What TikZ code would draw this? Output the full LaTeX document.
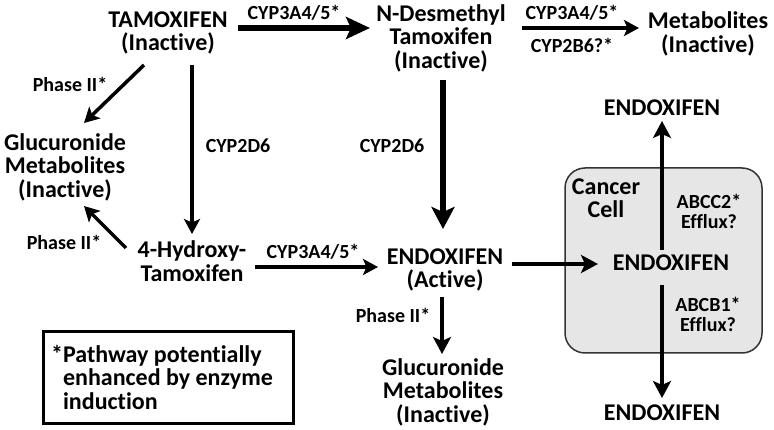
\documentclass[tikz,border=0pt]{standalone}
\usepackage{fontspec}
\setmainfont[Ligatures={NoCommon}]{Carlito}
\usetikzlibrary{arrows.meta}
\definecolor{cellgray}{HTML}{E6E6E6}
\definecolor{celledge}{HTML}{333333}
\tikzset{
  big/.style={font=\bfseries\fontsize{24}{23.5}\selectfont, align=center, inner sep=0pt},
  lbl/.style={font=\bfseries\fontsize{20}{20}\selectfont, align=center, inner sep=0pt},
  arrA/.style={line width=6pt, -{Stealth[length=24pt,width=22pt,inset=5pt]}},
  arrB/.style={line width=4pt, -{Stealth[length=17pt,width=18pt,inset=4pt]}},
  arrC/.style={line width=3.5pt, -{Stealth[length=15pt,width=16pt,inset=3.5pt]}},
  arrV/.style={line width=6pt, -{Stealth[length=22pt,width=23pt,inset=5pt]}},
}
\begin{document}
\begin{tikzpicture}[x=1pt,y=-1pt]
\useasboundingbox (0,0) rectangle (774,430);
% cancer cell
\node (cell) [draw=celledge, fill=cellgray, line width=1.5pt, rounded corners=20pt,
  minimum width=197pt, minimum height=185pt, inner sep=0pt] at (663.5,260.5) {};
% nodes
\node (tam) [big] at (168,33) {TAMOXIFEN\\(Inactive)};
\node (ndm) [big] at (441,38) {N-Desmethyl\\Tamoxifen\\(Inactive)};
\node (met) [big] at (708,34) {Metabolites\\(Inactive)};
\node (glu1) [big] at (65,167) {Glucuronide\\Metabolites\\(Inactive)};
\node (hyd) [big] at (192,261) {4-Hydroxy-\\Tamoxifen};
\node (endo) [big] at (445,270) {ENDOXIFEN\\(Active)};
\node (glu2) [big] at (443,392) {Glucuronide\\Metabolites\\(Inactive)};
\node (cc) [big] at (606,198) {Cancer\\Cell};
\node (endin) [big] at (671,263) {ENDOXIFEN};
\node (endtop) [big] at (662,108) {ENDOXIFEN};
\node (endbot) [big] at (662,413) {ENDOXIFEN};
% labels
\node (l1) [lbl] at (294,13) {CYP3A4/5*};
\node (l2) [lbl] at (572,13) {CYP3A4/5*};
\node (l3) [lbl] at (572,45) {CYP2B6?*};
\node (l4) [lbl] at (70,84) {Phase II*};
\node (l5) [lbl] at (238,146) {CYP2D6};
\node (l6) [lbl] at (392,146) {CYP2D6};
\node (l7) [lbl] at (64,242) {Phase II*};
\node (l8) [lbl] at (313,252) {CYP3A4/5*};
\node (l9) [lbl] at (393,315) {Phase II*};
\node (l10) [lbl] at (709,211) {ABCC2*\\Efflux?};
\node (l11) [lbl] at (708,314) {ABCB1*\\Efflux?};
% connector endpoints
\coordinate (a1s) at (238,28); \coordinate (a1e) at (370,28);
\coordinate (a2s) at (522,28); \coordinate (a2e) at (639,28);
\coordinate (a3s) at (144,65); \coordinate (a3e) at (84,123);
\coordinate (a4s) at (192,65); \coordinate (a4e) at (192,234);
\coordinate (a5s) at (126,248); \coordinate (a5e) at (84,206);
\coordinate (a6s) at (255,267); \coordinate (a6e) at (378,267);
\coordinate (a7s) at (443,80); \coordinate (a7e) at (443,229);
\coordinate (a8s) at (512,264); \coordinate (a8e) at (598,264);
\coordinate (a9s) at (442,297); \coordinate (a9e) at (442,354);
\coordinate (a10s) at (662,250); \coordinate (a10e) at (662,121);
\coordinate (a11s) at (662,285); \coordinate (a11e) at (662,398);
\draw[arrA] (a1s) -- (a1e);
\draw[arrC] (a2s) -- (a2e);
\draw[arrC] (a3s) -- (a3e);
\draw[arrC] (a4s) -- (a4e);
\draw[arrC] (a5s) -- (a5e);
\draw[arrC] (a6s) -- (a6e);
\draw[arrV] (a7s) -- (a7e);
\draw[arrB] (a8s) -- (a8e);
\draw[arrB] (a9s) -- (a9e);
\draw[arrB] (a10s) -- (a10e);
\draw[arrB] (a11s) -- (a11e);
% note
\node (note) [draw, line width=3pt, minimum width=250pt, minimum height=91pt,
  inner xsep=20pt, align=left,
  font=\bfseries\fontsize{24}{23.5}\selectfont] at (168,377.5)
  {\llap{*}Pathway potentially\\enhanced by enzyme\\induction};
\end{tikzpicture}
\end{document}
